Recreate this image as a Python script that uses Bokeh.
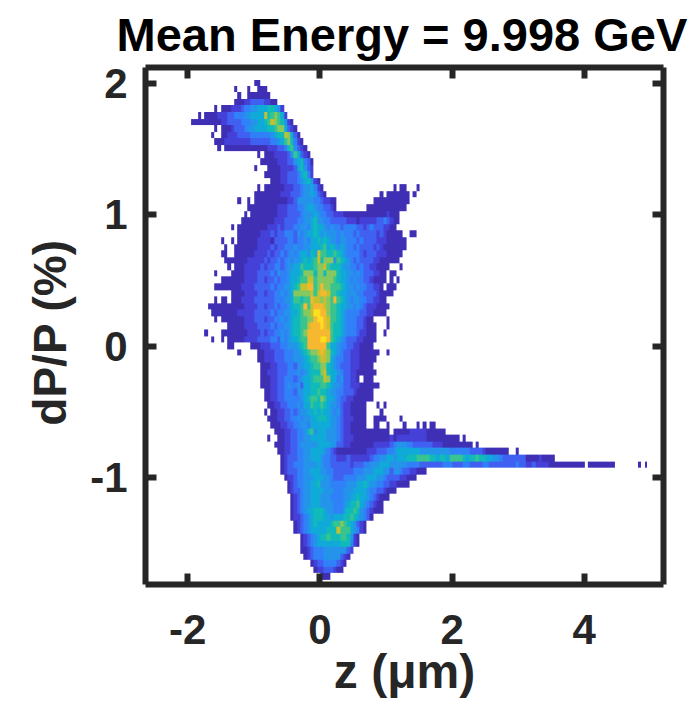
from bokeh.plotting import figure
from bokeh.embed import file_html
from bokeh.resources import INLINE
from bokeh.models import LinearAxis, FixedTicker, LinearColorMapper, Range1d
import numpy as np

title_text = "Mean Energy = 9.998 GeV"
x_label = "z (\u03bcm)"
y_label = "dP/P (%)\u00a0"
x_ticks = [-2, 0, 2, 4]
y_ticks = [-1, 0, 1, 2]
x_tick_labels = {-2: "-2", 0: "0", 2: "2", 4: "4"}
y_tick_labels = {-1: "-1", 0: "0", 1: "1", 2: "2"}

level_colors = ["#3f2fb4", "#4440d8", "#3f60f0", "#3080f8", "#2394ea", "#10aad8",
                "#10bab8", "#38c490", "#85c860", "#c5c030", "#f5b82e", "#fdde20"]
level_chars = "123456789abc"

z_first = -1.95
z_bin = 0.05
dpp_top = 2.025
dpp_bin = 0.05
n_cols = 138

# each row of the histogram, from dP/P = 2.0 downward: first column, then one
# level per cell ("." = empty cell, spaces are only for reading)
row_start = [19, 13, 14, 13, 7, 2, 0, 7, 6, 7, 8, 20, 21, 19, 22, 24, 20, 19, 14, 17,
             16, 15, 12, 14, 9, 10, 9, 10, 11, 7, 9, 7, 12, 7, 5, 6, 7, 11, 4, 6,
             11, 14, 20, 21, 21, 21, 21, 22, 22, 23, 22, 23, 24, 25, 23, 25, 26, 27, 27, 27,
             28, 29, 29, 30, 30, 30, 30, 31, 31, 33, 33, 33, 34, 36, 37, 39]
row_levels = [
 "11",
 "1...1..111",
 "1..1111111",
 "111 2233 332 211",
 "1. 111 222 344 556 6677 65 2",
 "1. 11112 22 334 445 566 66 a 7 898 6 2",
 "111111111 2 2333 3444 5566 78a98 7 5 2 1",
 "1. 1112 3334 5566 6677 899 6321",
 "1.. 1122 233 3344 4444 5677 a9 631",
 "1112 22222 22333 3334 456 89 7 4 2 1",
 "1. 11111111111112 22334 78 5321",
 "1. 1112222 35 8 6 3 2 1",
 "1111122 233 567 4 3 1",
 "1... 11112 2223 67 532",
 "11111 2233 34 67 4 2",
 "1112 2333 4567 5 2 1",
 "1. 111111 2223 34556 4 2 1 ..................... 1 . 11 ... 1",
 "1111111 1222 3334 556 5321 ................ 1 . 1111111 . 1",
 "1..1. 11111111 1122 3 5555 5443 2211 ........... 11111111111",
 "11111111 122233 344 5665 443 321 ......... 111111111111",
 "1. 1111111 12223333 45556 5443 32221 111111111 1112111",
 "11111111 11222333 3445567 5544 33333 222122 222334 3211",
 "1. 11111111 12223233 34455467 66545 44344 443323 4333221 1",
 "11111112 22323344 43545667 65655 54544 434333 332321 1111 .. 11",
 "1..1. 11111122 22133334 43445466 76765 54554 443433 332221 11111",
 "1.. 111111122 22323344 45445566 67867 65654 434333 323211 11111",
 "11.. 111111222 23233434 54566576 a8877 87654 444323 332221 1111",
 "111 111122222 32334345 45567678 a7999 58765 434333 322111 111",
 "1. 111222223 23344345 56687778 99a87 77655 443433 221111 ... 1",
 "1.... 1111222233 33435445 66679997 99799 97665 545433 32211 . 11",
 "1111 111222233 23343445 66788aa8 99999 87665 454433 21111 . 1 . 1",
 "111111 112222333 33434455 678aabb8 9b998 88765 545443 3221 . 111",
 "1111222233 23344545 699999a8 abba8 87665 554433 3321111",
 "1.11. 1112222333 33344455 68878 8ba a9a98 b8765 455443 32211",
 "11111111 111222233 23343445 6778b8ab bba98 87665 545432 221111",
 "1111111 122222333 33434455 66789 9ac cbb98 87654 444332 21111",
 "1. 1111 111222333 23344545 67788 99b ccba8 87654 443321 1 .... 1",
 "11111222233 33434455 67788abb bcba8 77654 44332111 ... 1",
 "1.... 1111111122223 23344545 67789bbb bbbb8 77654 44322111 .. 1",
 "1..1. 11111222233 33443545 66788bbb bccb8 76543 33221111",
 "11..... 111222333445 55678bbb bbb86 65443 3221111",
 "1..... 1122233344 45567899 aba97 65433 222111111 .. 1",
 "1122233344 45556788 9aa96 54433 22211111",
 "111223334 43556678 89976 54333 2221111",
 "112223334 44545677 79a76 65433 22111111",
 "111223344 43456678 88a96 64533 221.111",
 "111223345 44536677 78876 55433 222111111",
 "11223344 43556677 87765 54433 3211111",
 "11223344 44456788 79866 54332 2111111",
 "1122334 44546687 78765 54322 11111 ... 1 . 1",
 "1. 112233 43455667 67665 45322 11111 .... 1",
 "1112233 44545566 77765 54322 21111 .. 1111 .... 1",
 "111223 34455466 66665 54322 11111 .. 11 .. 1 .... 1 ... 1 . 1 . 11",
 "11122 33445785 66655 54322 11111 1111111 . 1 111122222111111",
 "1.. 1122 33445566 66655 54322 21111 1111111 21222222222 1111111111 . 1",
 "11122 33455555 66665 53322 11111 1122222 3455544 33333322 2111111111 . 1",
 "1122 33445566 66543 21111 111112 2233344 566666665555 55555 444444 3333 21111111 .. 1",
 "123 33445566 65443 32223 222222 3445566 566677 788887 76776 88887 677877665 543 333333 111121111",
 "123 34445555 65443 33333 233344 5556665 555544 443333 33344433344333344333333 33433 223222211111111111 . 11111111 ....... 1 . 1",
 "123 33445566 65544 33333 344455 5666553 55433 22111",
 "12 23445556 66554 33344 445556 6655433 3322111",
 "1 23445566 75554 44445 556676 5544332 21111",
 "1 23345566 66555 44455 566665 4433211 1",
 "12345566 65554 44455 667665 432111",
 "12345566 65555 44456 778654 3211",
 "12345667 77655 44467 787543 2111",
 "12234567 77665 66677 876543 1",
 "1234567 66667 88987 65321",
 "1234566 66677 7a888 65421",
 "12345 67787 77887 521",
 "12345 66666 66777 421",
 "11234 44555 555532",
 "1234 44555 55321",
 "12 33444 4321",
 "1 22333 211",
 "111",
]

grid = np.full((len(row_levels), n_cols), np.nan)
for r, (start, text) in enumerate(zip(row_start, row_levels)):
    c = start
    for ch in text.replace(" ", ""):
        if ch != "." and c < n_cols:
            grid[r, c] = level_chars.index(ch) + 1
        c += 1
# keep the cells square-edged when the browser scales the picture
grid = np.repeat(np.repeat(grid[::-1], 4, axis=0), 2, axis=1)

p = figure(width=698, height=715, output_backend="svg", toolbar_location=None,
           x_range=Range1d(-2.64, 5.2), y_range=Range1d(-1.81, 2.12),
           x_axis_type=None, y_axis_type=None,
           min_border_left=145, min_border_right=35, min_border_top=67, min_border_bottom=131)
p.grid.visible = False
p.outline_line_color = None
p.background_fill_color = "white"

mapper = LinearColorMapper(palette=level_colors, low=0.5, high=12.5, nan_color="rgba(0,0,0,0)")
p.image(image=[grid], x=z_first, y=dpp_top - dpp_bin * len(row_levels),
        dw=z_bin * n_cols, dh=dpp_bin * len(row_levels), color_mapper=mapper)

DARK = "#262626"
def style(ax, labels=None):
    ax.axis_line_color = DARK
    ax.axis_line_width = 6
    ax.major_tick_line_color = DARK
    ax.major_tick_line_width = 6
    ax.major_tick_in = 11
    ax.major_tick_out = 0
    ax.minor_tick_line_color = None
    ax.major_label_text_font = "Liberation Sans"
    ax.major_label_text_font_style = "bold"
    ax.major_label_text_font_size = "42px"
    ax.major_label_text_color = DARK
    ax.axis_label_text_font = "Liberation Sans"
    ax.axis_label_text_font_style = "bold"
    ax.axis_label_text_font_size = "46px"
    ax.axis_label_text_color = DARK
    if labels is None:
        ax.major_label_text_font_size = "1px"
        ax.major_label_text_color = None
        ax.major_label_standoff = 0
    else:
        ax.major_label_overrides = labels

bottom = LinearAxis(ticker=FixedTicker(ticks=x_ticks), axis_label=x_label)
left = LinearAxis(ticker=FixedTicker(ticks=y_ticks), axis_label=y_label)
top = LinearAxis(ticker=FixedTicker(ticks=x_ticks))
right = LinearAxis(ticker=FixedTicker(ticks=y_ticks))
style(bottom, x_tick_labels)
style(left, y_tick_labels)
style(top)
style(right)
bottom.major_label_standoff = 30
bottom.axis_label_standoff = -2
bottom.axis_label_text_font_size = "48px"
left.major_label_standoff = 18
left.axis_label_standoff = 11
p.add_layout(bottom, "below")
p.add_layout(left, "left")
p.add_layout(top, "above")
p.add_layout(right, "right")

p.title.text = title_text
p.title.text_font = "Liberation Sans"
p.title.text_font_style = "bold"
p.title.text_font_size = "47px"
p.title.text_color = "black"
p.title.align = "left"
p.title.offset = -29
p.title.vertical_align = "middle"
p.title.standoff = 12

open("out.html", "w").write(file_html(p, INLINE))
